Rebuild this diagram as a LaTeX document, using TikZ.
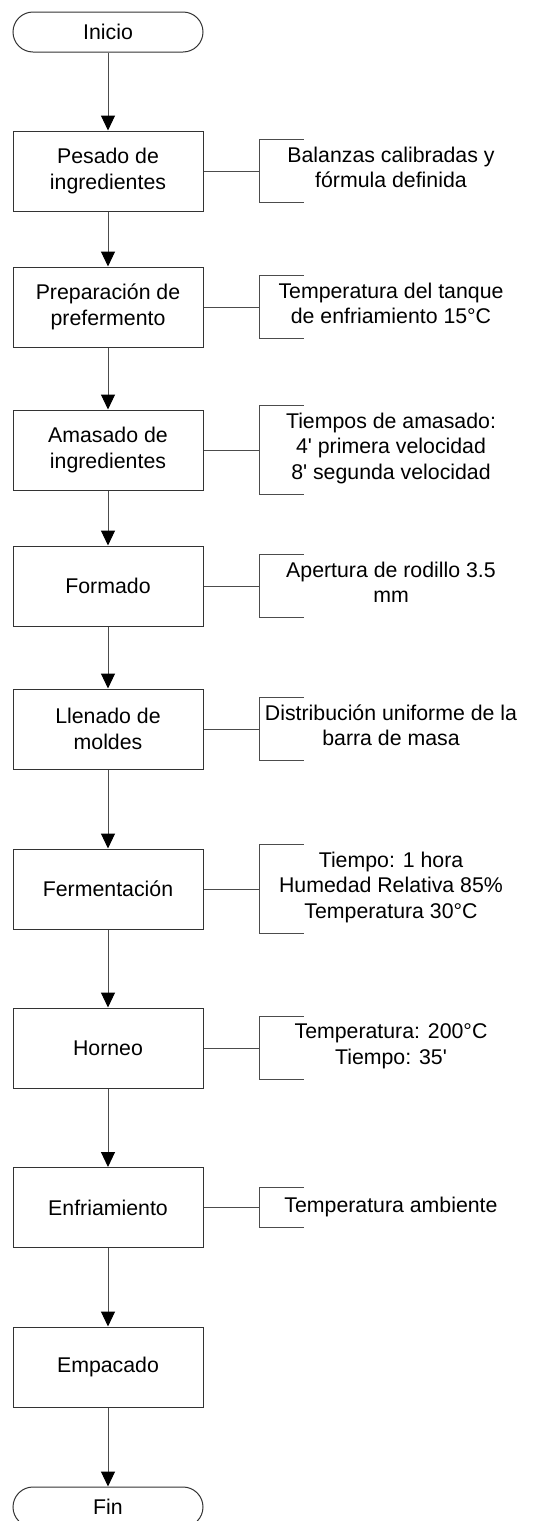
\documentclass[tikz,border=0pt]{standalone}
\usepackage{fontspec}
\setmainfont{Liberation Sans}
\usetikzlibrary{positioning,arrows.meta}

\begin{document}
\begin{tikzpicture}[x=1pt,y=-1pt,on grid,
    font=\fontsize{21.3pt}{25.5pt}\selectfont,
    terminal/.style={draw=black!80,line width=1pt,rounded corners=20pt,minimum width=190pt,minimum height=40pt,inner sep=0pt},
    proceso/.style={draw=black!80,line width=1pt,minimum width=190pt,minimum height=80pt,align=center,inner sep=0pt},
    nota/.style={minimum width=262pt,inner xsep=0pt,inner ysep=7pt,align=center,execute at begin node=\strut,execute at end node=\strut},
    flecha/.style={draw=black!70,line width=1pt,-{Triangle[length=15pt,width=14pt,color=black]}},
    linea/.style={draw=black!70,line width=1pt}]
    \clip (0,0) rectangle (548,1521);

    \node[terminal] (inicio) at (108,32) {Inicio};
    \node[proceso] (pesado) [below=139pt of inicio] {Pesado de\\ingredientes};
    \node[proceso] (preparacion) [below=136pt of pesado] {Preparación de\\prefermento};
    \node[proceso] (amasado) [below=143pt of preparacion] {Amasado de\\ingredientes};
    \node[proceso] (formado) [below=136pt of amasado] {Formado};
    \node[proceso] (llenado) [below=143pt of formado] {Llenado de\\moldes};
    \node[proceso] (fermentacion) [below=160pt of llenado] {Fermentación};
    \node[proceso] (horneo) [below=159pt of fermentacion] {Horneo};
    \node[proceso] (enfriamiento) [below=159.5pt of horneo] {Enfriamiento};
    \node[proceso] (empacado) [below=159.5pt of enfriamiento] {Empacado};
    \node[terminal] (fin) [below=140pt of empacado] {Fin};

    % notas de control
    \node[nota] (n1) [right=283pt of pesado] {Balanzas calibradas y\\fórmula definida};
    \node[nota] (n2) [right=283pt of preparacion] {Temperatura del tanque\\de enfriamiento 15°C};
    \node[nota] (n3) [right=283pt of amasado] {Tiempos de amasado:\\4\textquotesingle{} primera velocidad\\8\textquotesingle{} segunda velocidad};
    \node[nota] (n4) [right=283pt of formado] {Apertura de rodillo 3.5\\mm};
    \node[nota] (n5) [right=283pt of llenado] {Distribución uniforme de la\\barra de masa};
    \node[nota] (n6) [right=283pt of fermentacion] {Tiempo: 1 hora\\Humedad Relativa 85\%\\Temperatura 30°C};
    \node[nota] (n7) [right=283pt of horneo] {Temperatura: 200°C\\Tiempo: 35\textquotesingle};
    \node[nota] (n8) [right=283pt of enfriamiento] {Temperatura ambiente};

    \path[flecha] (inicio) edge (pesado)
                  (pesado) edge (preparacion)
                  (preparacion) edge (amasado)
                  (amasado) edge (formado)
                  (formado) edge (llenado)
                  (llenado) edge (fermentacion)
                  (fermentacion) edge (horneo)
                  (horneo) edge (enfriamiento)
                  (enfriamiento) edge (empacado)
                  (empacado) edge (fin);

    \path[linea] (pesado) edge (n1)
                 (preparacion) edge (n2)
                 (amasado) edge (n3)
                 (formado) edge (n4)
                 (llenado) edge (n5)
                 (fermentacion) edge (n6)
                 (horneo) edge (n7)
                 (enfriamiento) edge (n8);

    % corchetes
    \draw[linea] ([xshift=44pt]n1.north west) -- (n1.north west) -- (n1.south west) -- ([xshift=44pt]n1.south west)
                 ([xshift=44pt]n2.north west) -- (n2.north west) -- (n2.south west) -- ([xshift=44pt]n2.south west)
                 ([xshift=44pt]n3.north west) -- (n3.north west) -- (n3.south west) -- ([xshift=44pt]n3.south west)
                 ([xshift=44pt]n4.north west) -- (n4.north west) -- (n4.south west) -- ([xshift=44pt]n4.south west)
                 ([xshift=44pt]n5.north west) -- (n5.north west) -- (n5.south west) -- ([xshift=44pt]n5.south west)
                 ([xshift=44pt]n6.north west) -- (n6.north west) -- (n6.south west) -- ([xshift=44pt]n6.south west)
                 ([xshift=44pt]n7.north west) -- (n7.north west) -- (n7.south west) -- ([xshift=44pt]n7.south west)
                 ([xshift=44pt]n8.north west) -- (n8.north west) -- (n8.south west) -- ([xshift=44pt]n8.south west);
\end{tikzpicture}
\end{document}
